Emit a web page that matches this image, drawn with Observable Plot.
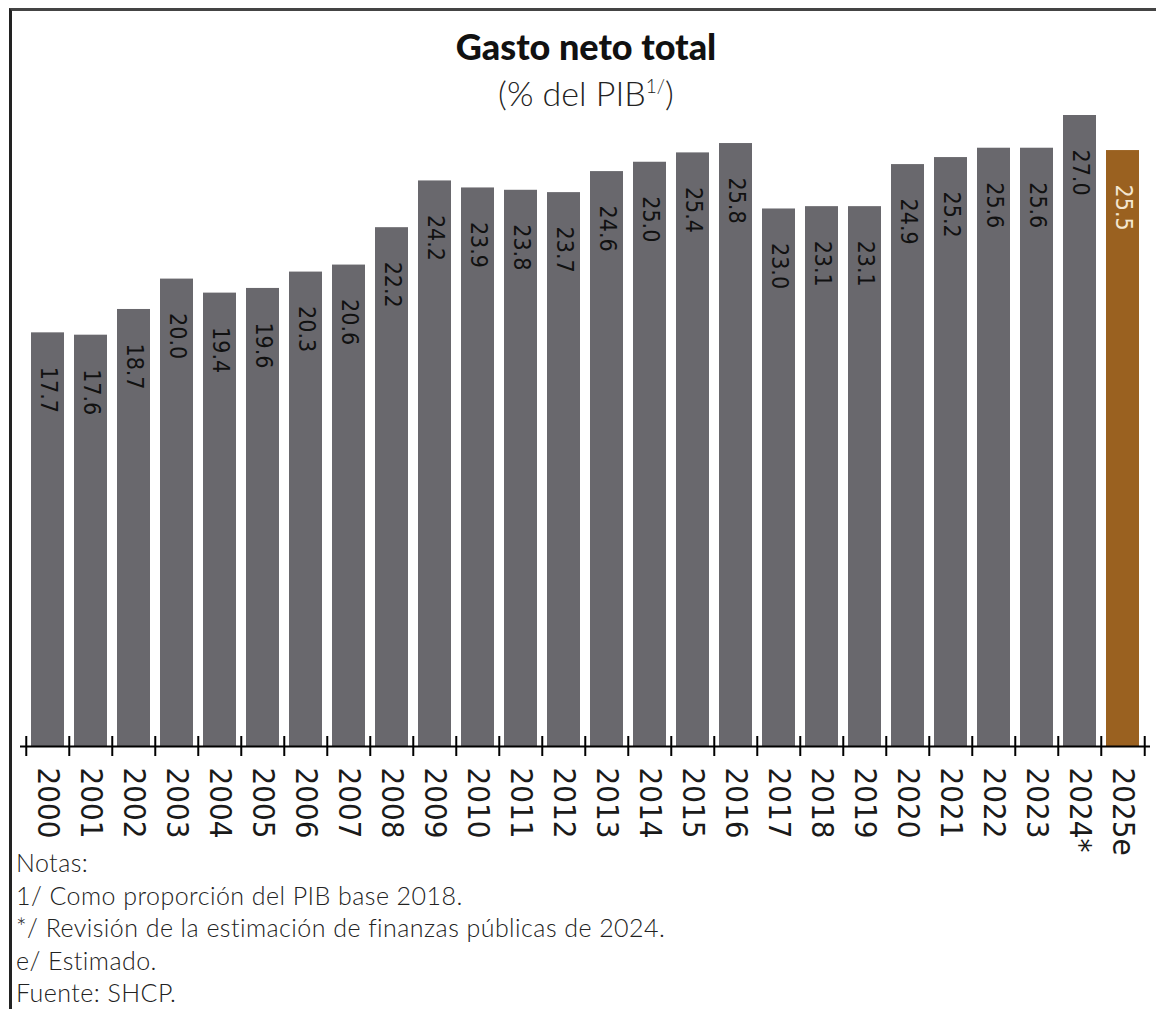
<!DOCTYPE html>
<html>
<head>
<meta charset="utf-8">
<script src="https://cdn.jsdelivr.net/npm/d3@7"></script>
<script src="https://cdn.jsdelivr.net/npm/@observablehq/plot@0.6"></script>
<style>
  html, body { margin: 0; padding: 0; background: #fff; }
  body { width: 1156px; height: 1009px; position: relative; overflow: hidden; }
  #frame { position: absolute; left: 9px; top: 8px; width: 1160px; height: 1010px;
           border-left: 3px solid #222; border-top: 3px solid #444; box-sizing: border-box; }
  #header { position: absolute; left: 0; top: 0; width: 1156px; height: 110px; }
  #title { position: absolute; left: 16px; right: 0; text-align: center; top: 27px; font-family: Lato, sans-serif; font-weight: 900; font-size: 36px; line-height: 38px; color: #111; }
  #subtitle { position: absolute; left: 16px; right: 0; text-align: center; top: 74px; font-family: Lato, sans-serif; font-weight: 300; font-size: 34px; line-height: 38px; color: #222; }
  #subtitle sup { font-size: 19px; vertical-align: 13px; line-height: 0; }
  #chart { position: absolute; left: 0; top: 110px; }
  #notes { position: absolute; left: 16px; top: 851px; font-family: Lato, sans-serif; font-weight: 300; font-size: 25px; letter-spacing: 0.45px; color: #222; }
  #notes div { line-height: 22px; height: 22px; margin-bottom: 10.5px; white-space: nowrap; }
  #notes div:last-child { margin-bottom: 0; }
</style>
</head>
<body>
<div id="frame"></div>
<div id="header">
  <div id="title">Gasto neto total</div>
  <div id="subtitle">(% del PIB<sup>1/</sup>)</div>
</div>
<div id="chart"></div>
<div id="notes">
  <div>Notas:</div>
  <div>1/ Como proporción del PIB base 2018.</div>
  <div>*/ Revisión de la estimación de finanzas públicas de 2024.</div>
  <div>e/ Estimado.</div>
  <div>Fuente: SHCP.</div>
</div>
<script>
const years = ["2000","2001","2002","2003","2004","2005","2006","2007","2008","2009","2010","2011","2012","2013","2014","2015","2016","2017","2018","2019","2020","2021","2022","2023","2024*","2025e"];
const values = [17.7,17.6,18.7,20.0,19.4,19.6,20.3,20.6,22.2,24.2,23.9,23.8,23.7,24.6,25.0,25.4,25.8,23.0,23.1,23.1,24.9,25.2,25.6,25.6,27.0,25.5];
const kinds = years.map(y => y.endsWith("e") ? "Estimado" : "Observado");

const data = years.map((year, i) => ({year, value: values[i], kind: kinds[i]}));

const W = 1156, H = 750;
const mL = 20, mR = 6, mT = 5, mB = 114;
const step = (W - mL - mR) / years.length;
const narrow = "'Liberation Sans Narrow', 'DejaVu Sans Condensed', 'Roboto', sans-serif";

const chart = Plot.plot({
  width: W, height: H,
  marginTop: mT, marginBottom: mB, marginLeft: mL, marginRight: mR,
  x: {domain: years, paddingInner: 0.24, paddingOuter: 0.12, axis: null},
  y: {domain: [0, 27], axis: null},
  color: {domain: ["Observado", "Estimado"], range: ["#69686d", "#9a6120"]},
  style: {background: "transparent", overflow: "visible"},
  marks: [
    Plot.barY(data, {x: "year", y: "value", fill: "kind"}),
    Plot.text(data.filter(d => d.kind === "Observado"), {
      x: "year", y: "value", text: d => d.value.toFixed(1), rotate: 90, textAnchor: "start",
      dy: 34, fontSize: 23, fill: "#111", fontFamily: narrow
    }),
    Plot.text(data.filter(d => d.kind === "Estimado"), {
      x: "year", y: "value", text: d => d.value.toFixed(1), rotate: 90, textAnchor: "start",
      dy: 34, fontSize: 23, fill: "#f4e6cf", fontFamily: narrow
    }),
    Plot.ruleY([0], {stroke: "#000", strokeWidth: 2}),
    Plot.ruleX(data, {x: "year", y1: 0, y2: 0, dx: -step / 2, insetTop: -10, insetBottom: -10, stroke: "#000", strokeWidth: 2}),
    Plot.ruleX(data.slice(-1), {x: "year", y1: 0, y2: 0, dx: step / 2, insetTop: -10, insetBottom: -10, stroke: "#000", strokeWidth: 2}),
    Plot.text(data, {
      x: "year", y: 0, text: "year", rotate: 90, textAnchor: "start",
      dy: 21, fontSize: 31, fill: "#1a1a1a", fontFamily: narrow
    })
  ]
});
document.getElementById("chart").appendChild(chart);
</script>
</body>
</html>
